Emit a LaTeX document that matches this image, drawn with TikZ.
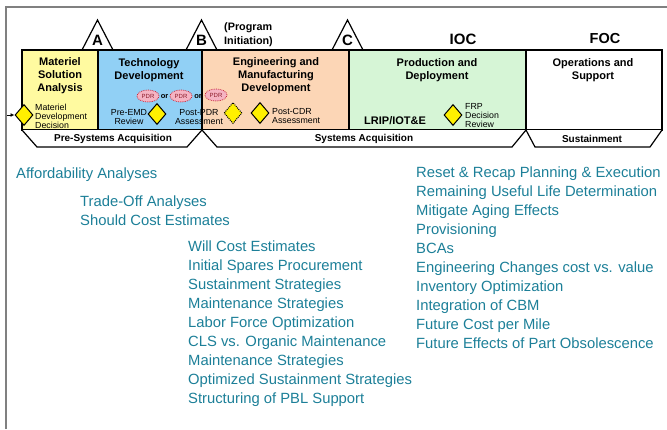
\documentclass[tikz,border=0pt]{standalone}
\usepackage{fontspec}
\setmainfont{Liberation Sans}
\usetikzlibrary{shapes.geometric,arrows.meta}

\definecolor{msayel}{RGB}{255,250,160}
\definecolor{tdblue}{RGB}{145,208,245}
\definecolor{emdpeach}{RGB}{252,214,182}
\definecolor{pdgreen}{RGB}{214,245,214}
\definecolor{dsnyel}{RGB}{255,240,0}
\definecolor{pdrpink}{RGB}{245,180,195}
\definecolor{pdrred}{RGB}{200,40,60}
\definecolor{itemteal}{RGB}{28,127,152}
\definecolor{framegray}{RGB}{128,128,128}

\tikzset{
  phase/.style = {draw=black, line width=1.2pt, inner sep=0pt},
  ttl/.style = {align=center, inner sep=0pt, font=\fontsize{11}{13}\selectfont\bfseries},
  small/.style = {inner sep=0pt, font=\fontsize{8.8}{9}\selectfont},
  dsn/.style = {diamond, draw=black, line width=1pt, fill=dsnyel, minimum width=18pt, minimum height=21pt, inner sep=0pt},
  pdr/.style = {ellipse, draw=pdrred, densely dotted, line width=0.8pt, fill=pdrpink, minimum width=22pt, minimum height=12pt, inner sep=0pt, text=pdrred!70!black, font=\fontsize{6}{6}\selectfont},
  band/.style = {draw=black, line width=1.2pt, fill=white},
  mstone/.style = {draw=black, line width=1.2pt, fill=white},
  item/.style = {anchor=base west, inner sep=0pt, text=itemteal, font=\fontsize{14.8}{19}\selectfont},
}

\begin{document}
\begin{tikzpicture}[x=1pt, y=-1pt]
\useasboundingbox (0,0) rectangle (667,429);
\draw[framegray, line width=2pt] (6,429) -- (6,6.5) -- (667,6.5);

% milestone triangles
\draw[mstone] (82,50) -- (97.5,20) -- (113,50);
\draw[mstone] (186,50) -- (201.5,20) -- (217,50);
\draw[mstone] (332,50) -- (347.5,20) -- (363,50);
\node[font=\fontsize{15}{15}\selectfont\bfseries] (msA) at (97.5,40) {A};
\node[font=\fontsize{15}{15}\selectfont\bfseries] (msB) at (201.5,40) {B};
\node[font=\fontsize{15}{15}\selectfont\bfseries] (msC) at (347.5,40) {C};
\node[anchor=west, align=left, inner sep=0pt, font=\fontsize{10.8}{14}\selectfont\bfseries] (init) at (224,35) {(Program\\Initiation)};
\node[font=\fontsize{15}{15}\selectfont\bfseries] (ioc) at (463,39) {IOC};
\node[font=\fontsize{14.5}{15}\selectfont\bfseries] (foc) at (605,39) {FOC};

% phases
\node[phase, fill=msayel, minimum width=76pt, minimum height=80pt] (msa) at (60,90) {};
\node[phase, fill=tdblue, minimum width=104pt, minimum height=80pt] (td) at (150,90) {};
\node[phase, fill=emdpeach, minimum width=147pt, minimum height=80pt] (emd) at (275.5,90) {};
\node[phase, fill=pdgreen, minimum width=177pt, minimum height=80pt] (pd) at (437.5,90) {};
\node[phase, fill=white, minimum width=136pt, minimum height=80pt] (os) at (594,90) {};

\node[ttl] (msattl) at (60,76) {Materiel\\Solution\\Analysis};
\node[ttl] (tdttl) at (149,70) {Technology\\Development};
\node[ttl] (emdttl) at (276,76) {Engineering and\\Manufacturing\\Development};
\node[ttl] (pdttl) at (437,70) {Production and\\Deployment};
\node[ttl] (osttl) at (593,70) {Operations and\\Support};

% acquisition bands
\draw[band] (22,130) -- (37,147) -- (187,147) -- (202,130);
\draw[band] (202,130) -- (217,147) -- (512,147) -- (526,130);
\draw[band] (526,130) -- (535,147) -- (650,147) -- (662,130);
\node[font=\fontsize{10}{10}\selectfont\bfseries] (presys) at (113,139) {Pre-Systems Acquisition};
\node[font=\fontsize{10}{10}\selectfont\bfseries] (sys) at (364,139) {Systems Acquisition};
\node[font=\fontsize{10}{10}\selectfont\bfseries] (sust) at (592,139) {Sustainment};

% PDR options
\node[pdr] (pdr1) at (148,96) {PDR};
\node[pdr] (pdr2) at (181,96) {PDR};
\node[pdr] (pdr3) at (216,95) {PDR};
\node[inner sep=0pt, font=\fontsize{7.5}{7.5}\selectfont\bfseries] (or1) at (164.5,97) {or};
\node[inner sep=0pt, font=\fontsize{7.5}{7.5}\selectfont\bfseries] (or2) at (198,97) {or};

% decision points
\coordinate (mddin) at (7,115);
\node[dsn] (mdd) at (24,115) {};
\draw[line width=1pt, -{Latex[length=4pt,width=4pt]}] (mddin) -- (mdd.west);
\node[small, anchor=west, align=left] (mddtxt) at (35,116) {Materiel\\Development\\Decision};
\node[small, align=center] (preemdtxt) at (129,117) {Pre-EMD\\Review};
\node[dsn] (preemd) at (157,114) {};
\node[small, align=center] (postpdrtxt) at (199,117) {Post-PDR\\Assessment};
\node[dsn, densely dotted] (postpdr) at (233,113) {};
\node[dsn] (postcdr) at (260,113) {};
\node[small, anchor=west, align=left] (postcdrtxt) at (272,116) {Post-CDR\\Assessment};
\node[anchor=west, inner sep=0pt, font=\fontsize{11}{11}\selectfont\bfseries] (lrip) at (364,121) {LRIP/IOT\&E};
\node[dsn] (frp) at (453,115) {};
\node[small, anchor=west, align=left] (frptxt) at (465,116) {FRP\\Decision\\Review};

% cost analyses
\node[item] (afford) at (16,178) {Affordability Analyses};
\foreach \txt [count=\i from 0] in {Trade-Off Analyses, Should Cost Estimates}
  \node[item] (early\i) at (80,{206+19*\i}) {\txt};
\foreach \txt [count=\i from 0] in {Will Cost Estimates, Initial Spares Procurement,
    Sustainment Strategies, Maintenance Strategies, Labor Force Optimization,
    CLS vs. Organic Maintenance, Maintenance Strategies,
    Optimized Sustainment Strategies, Structuring of PBL Support}
  \node[item] (mid\i) at (188,{251+19.1*\i}) {\txt};
\foreach \txt [count=\i from 0] in {Reset \& Recap Planning \& Execution,
    Remaining Useful Life Determination, Mitigate Aging Effects, Provisioning, BCAs,
    Engineering Changes cost vs. value, Inventory Optimization, Integration of CBM,
    Future Cost per Mile, Future Effects of Part Obsolescence}
  \node[item] (late\i) at (416,{177+19.1*\i}) {\txt};
\end{tikzpicture}
\end{document}
